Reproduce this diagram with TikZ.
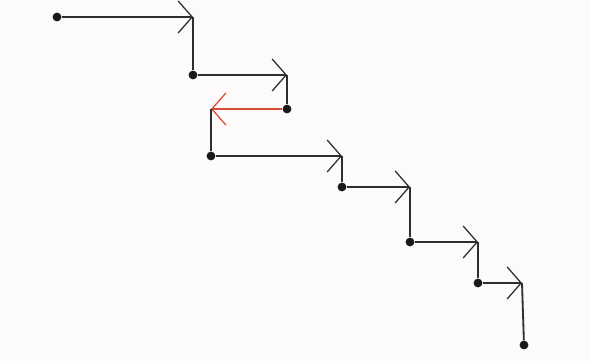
\documentclass[tikz,border=0pt]{standalone}
\usepackage[dvipsnames]{xcolor}
\usepackage{tikz}
\usetikzlibrary{arrows.meta}
\definecolor{paper}{RGB}{253,250,252}
\definecolor{backred}{RGB}{214,74,54}

\begin{document}
\begin{tikzpicture}[x=0.5mm,y=-0.5mm,dot/.style={circle,fill=black!90,inner sep=0pt,minimum size=4.4mm},seg/.style={line width=2.6pt,black!82},arrow/.style={seg,-{Straight Barb[length=7mm,width=16mm,line width=1.8pt]}},back/.style={arrow,backred}]
\fill[paper] (0,0) rectangle (590,361);
\node[dot] (p1) at (57,17) {};
\node[dot] (p2) at (193,75) {};
\node[dot] (p3) at (287,109) {};
\node[dot] (p4) at (211,156) {};
\node[dot] (p5) at (342,187) {};
\node[dot] (p6) at (410,242) {};
\node[dot] (p7) at (478,283) {};
\node[dot] (p8) at (524,345) {};
\coordinate (c1) at (193,17); \coordinate (c2) at (287,75);
\coordinate (c3) at (211,109); \coordinate (c4) at (342,156);
\coordinate (c5) at (410,187); \coordinate (c6) at (478,242);
\coordinate (c7) at (522,283);
\draw[arrow] (p1)--(c1); \draw[seg] (c1)--(p2);
\draw[arrow] (p2)--(c2); \draw[seg] (c2)--(p3);
\draw[back] (p3)--(c3); \draw[seg] (c3)--(p4);
\draw[arrow] (p4)--(c4); \draw[seg] (c4)--(p5);
\draw[arrow] (p5)--(c5); \draw[seg] (c5)--(p6);
\draw[arrow] (p6)--(c6); \draw[seg] (c6)--(p7);
\draw[arrow] (p7)--(c7); \draw[seg] (c7)--(p8);
\end{tikzpicture}
\end{document}
